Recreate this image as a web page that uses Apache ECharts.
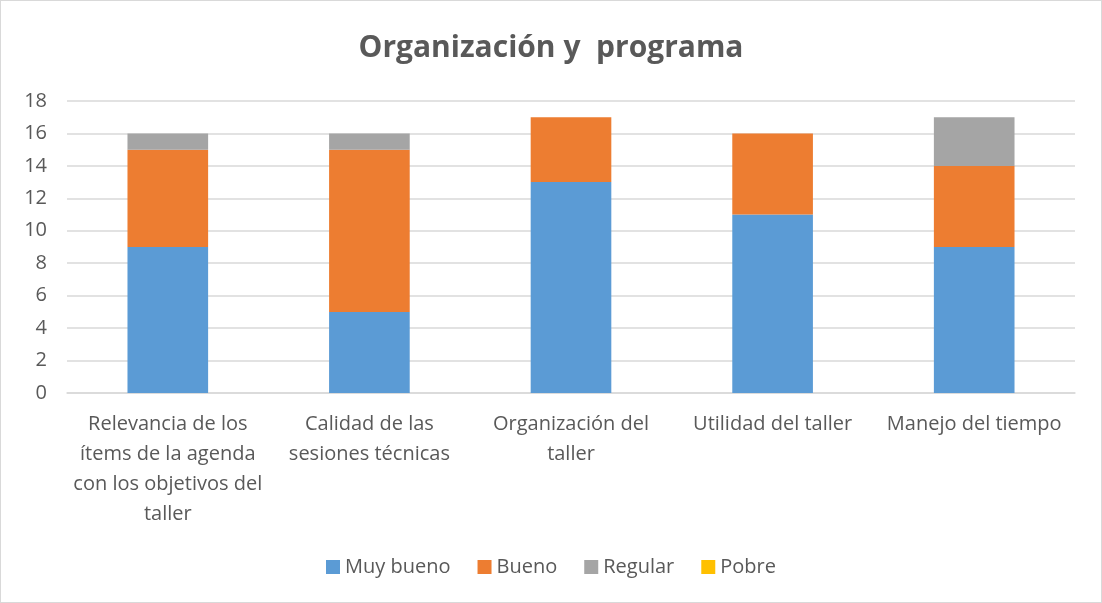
<!DOCTYPE html>
<html>
<head>
<meta charset="utf-8">
<script src="https://cdn.jsdelivr.net/npm/echarts@6/dist/echarts.min.js"></script>
<style>
    html, body { margin: 0; padding: 0; background: #fff; }
    #chart { width: 1100px; height: 601px; border: 1px solid #d9d9d9; }
</style>
</head>
<body>
<div id="chart"></div>
<script>
// Chart data
const categories = [
    'Relevancia de los\nítems de la agenda\ncon los objetivos del\ntaller',
    'Calidad de las\nsesiones técnicas',
    'Organización del\ntaller',
    'Utilidad del taller',
    'Manejo del tiempo'
];
const muyBueno = [9, 5, 13, 11, 9];
const bueno = [6, 10, 4, 5, 5];
const regular = [1, 1, 0, 0, 3];
const pobre = [0, 0, 0, 0, 0];
const seriesNames = ['Muy bueno', 'Bueno', 'Regular', 'Pobre'];
const colors = ['#5b9bd5', '#ed7d31', '#a5a5a5', '#ffc000'];

const chart = echarts.init(document.getElementById('chart'));
const font = "'Open Sans', 'Liberation Sans', sans-serif";

function bar(name, data, color) {
    return {
        name: name,
        type: 'bar',
        stack: 'total',
        data: data,
        barWidth: '40%',
        itemStyle: { color: color },
        emphasis: { disabled: true }
    };
}

chart.setOption({
    animation: false,
    textStyle: { fontFamily: font },
    title: {
        text: 'Organización y  programa',
        left: 'center',
        top: 27,
        textStyle: { color: '#595959', fontSize: 30, fontWeight: 'bold', fontFamily: font }
    },
    legend: {
        bottom: 20,
        left: 'center',
        itemWidth: 14,
        itemHeight: 14,
        itemGap: 27,
        icon: 'rect',
        textStyle: { color: '#595959', fontSize: 20, fontFamily: font },
        data: seriesNames
    },
    grid: { left: 66, right: 26, top: 100, bottom: 209, containLabel: false },
    xAxis: {
        type: 'category',
        data: categories,
        axisTick: { show: false },
        axisLine: { lineStyle: { color: '#d9d9d9', width: 1.5 } },
        axisLabel: {
            color: '#595959',
            fontSize: 20,
            lineHeight: 30,
            margin: 16,
            interval: 0,
            fontFamily: font
        }
    },
    yAxis: {
        type: 'value',
        min: 0,
        max: 18,
        interval: 2,
        axisLabel: { color: '#595959', fontSize: 20, margin: 20, fontFamily: font },
        splitLine: { lineStyle: { color: '#d9d9d9', width: 1.5 } }
    },
    series: [
        bar(seriesNames[0], muyBueno, colors[0]),
        bar(seriesNames[1], bueno, colors[1]),
        bar(seriesNames[2], regular, colors[2]),
        bar(seriesNames[3], pobre, colors[3])
    ]
});
</script>
</body>
</html>
